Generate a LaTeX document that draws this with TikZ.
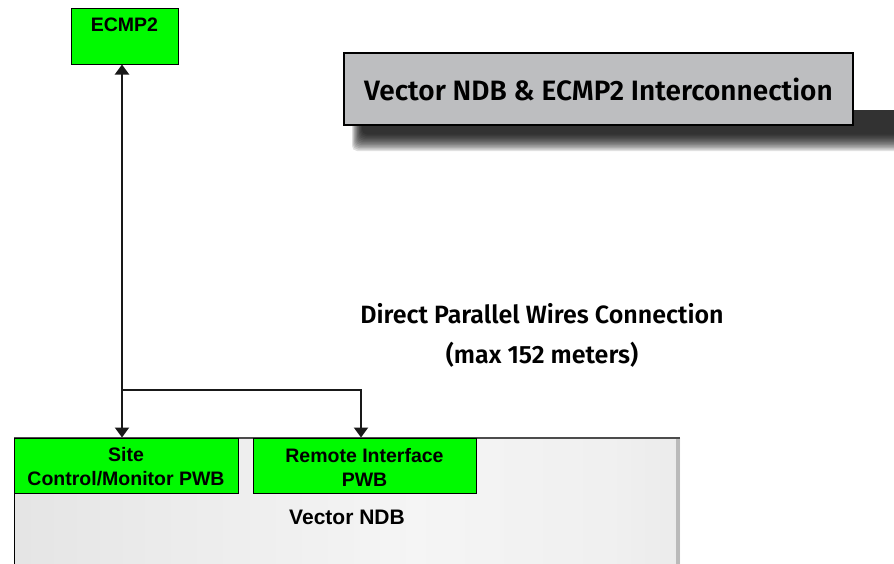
\documentclass[tikz,border=0pt]{standalone}
\usepackage{fontspec}
\setmainfont{Liberation Sans}
\newfontfamily\titlefont{Fira Sans}[UprightFont=* SemiBold]
\usetikzlibrary{arrows.meta}
\definecolor{boxgreen}{RGB}{0,250,0}
\definecolor{titlegray}{RGB}{189,190,192}
\pgfdeclarehorizontalshading{ndbshade}{100bp}{color(0bp)=(black!16); color(35bp)=(black!8); color(55bp)=(black!4); color(70bp)=(black!6); color(100bp)=(black!17)}
\tikzset{
  greenbox/.style={draw=black, line width=1.2pt, fill=boxgreen, inner sep=0pt, anchor=north west},
  boxtext/.style={font=\fontsize{19.5}{24}\selectfont\bfseries, align=center, inner sep=0pt},
  wire/.style={line width=2pt, draw=black!90},
  tip/.style={-{Triangle[width=14pt,length=10pt]}},
  bigtext/.style={font=\titlefont\fontsize{25}{40}\selectfont, align=center, inner sep=0pt}
}
\begin{document}
\begin{tikzpicture}[x=1pt,y=-1pt]
\useasboundingbox (0,0) rectangle (894,563);
\fill[white] (0,0) rectangle (894,563);
% title shadow
\begin{scope}
\clip (0,0) rectangle (894,563);
\foreach \i in {0,...,11}
  \fill[black, opacity=0.12, rounded corners=5pt] (352+\i*0.9,110) rectangle (900,151-\i*1.5);
\end{scope}
% title
\node[draw=black, line width=2pt, fill=titlegray, minimum width=509, minimum height=72, anchor=north west, inner sep=0pt] (title) at (343,52) {};
\node[font=\titlefont\fontsize{28}{32}\selectfont, inner sep=0pt] (titletext) at (title.center) {Vector NDB \& ECMP2 Interconnection};
% Vector NDB box
\begin{scope}
\clip (0,0) rectangle (894,563);
\shade[shading=ndbshade] (14,438) rectangle (680,570);
\fill[black!27] (676,438) rectangle (680,570);
\draw[black!70, line width=2pt] (14,438) -- (680,438);
\draw[black, line width=1pt] (14,438) -- (14,570);
\end{scope}
\node[inner sep=0pt] (ndb) at (347,517) {\fontsize{21}{22}\selectfont\bfseries Vector NDB};
% green boxes
\node[greenbox, minimum width=107, minimum height=56] (ecmp) at (71,8) {};
\node[boxtext] (ecmptext) at (124.5,25) {ECMP2};
\node[greenbox, minimum width=224, minimum height=55] (site) at (14,438) {};
\node[boxtext] (sitetext) at (126,467) {Site\\Control/Monitor PWB};
\node[greenbox, minimum width=223, minimum height=55] (remote) at (253,438) {};
\node[boxtext] (remotetext) at (364.5,467) {Remote Interface\\PWB};
% connectors
\coordinate (branch) at (122,390);
\coordinate (branchr) at (361,390);
\draw[wire, tip] (122,390) -- (122,64.5) coordinate (ecmpin);
\draw[wire, tip] (branch) -- (122,437.5) coordinate (sitein);
\draw[wire, tip] (branch) -- (branchr) -- (361,437.5) coordinate (remotein);
% connection text
\node[bigtext] (conn) at (542,335) {Direct Parallel Wires Connection\\(max 152 meters)};
\end{tikzpicture}
\end{document}
